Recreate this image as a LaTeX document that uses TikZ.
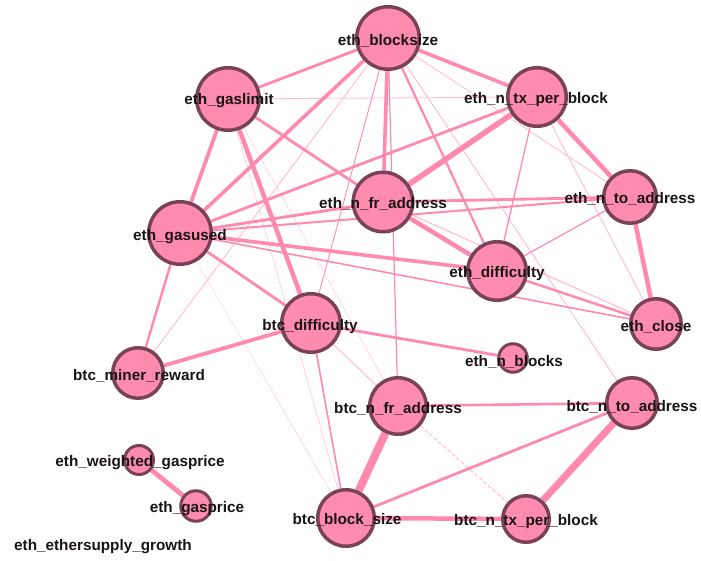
\documentclass[tikz,border=0pt]{standalone}
\usepackage{fontspec}
\setmainfont{Liberation Sans}
\usetikzlibrary{backgrounds}
\definecolor{nodefill}{RGB}{255,140,176}
\definecolor{nodeborder}{RGB}{122,66,88}
\definecolor{edgecol}{RGB}{255,138,174}
\definecolor{edgelight}{RGB}{255,188,207}
\definecolor{labelcol}{RGB}{25,20,22}
\tikzset{
  vertex/.style={circle, fill=nodefill, draw=nodeborder, line width=3.5pt, inner sep=0pt, minimum size=#1},
  dot/.style={circle, fill=nodefill, inner sep=0pt, minimum size=#1},
  lbl/.style={font=\bfseries\fontsize{15.3}{16}\selectfont, text=labelcol, inner sep=0pt},
  e/.style={draw=edgecol, line width=#1},
  el/.style={draw=edgelight, line width=#1},
}
\begin{document}
\begin{tikzpicture}[x=1pt,y=-1pt]
\useasboundingbox (0,0) rectangle (701,561);
% vertices
\node[vertex=62.5] (A) at (388,38) {};
\node[vertex=62.5] (B) at (228,99) {};
\node[vertex=58.5] (C) at (537,97) {};
\node[vertex=59.5] (D) at (383,202) {};
\node[vertex=52.5] (E) at (630,197) {};
\node[vertex=62.5] (F) at (180,233) {};
\node[vertex=58.5] (G) at (497,271) {};
\node[vertex=50.5] (H) at (656,324) {};
\node[vertex=58.5] (I) at (311,323) {};
\node[vertex=50.5] (J) at (138,373) {};
\node[vertex=28.5, line width=3pt] (K) at (513,358) {};
\node[vertex=56.5] (L) at (398,406) {};
\node[vertex=50.5] (M) at (632,403) {};
\node[vertex=56.5] (N) at (346,518) {};
\node[vertex=46.5] (O) at (526,519) {};
\node[vertex=29, line width=3pt] (P) at (139,460) {};
\node[vertex=30.5, line width=3pt] (Q) at (196,506) {};
\node[dot=3] (R) at (103,543) {};
% edges
\begin{scope}[on background layer]
\fill[white] (0,0) rectangle (701,561);
\draw[el=0.8] (B) -- (C);
\draw[el=0.8] (A) -- (E);
\draw[el=0.9] (A) -- (M);
\draw[el=0.9] (A) -- (J);
\draw[e=0.9] (A) -- (I);
\draw[el=0.7, dash pattern=on 2pt off 1pt] (B) -- (N);
\draw[el=0.6, dash pattern=on 2pt off 1pt] (B) -- (L);
\draw[el=0.7, dash pattern=on 1pt off 1pt] (F) -- (N);
\draw[el=0.9] (C) -- (H);
\draw[el=1.1] (D) -- (H);
\draw[el=1.0] (I) -- (L);
\draw[el=1.0, dash pattern=on 4pt off 2pt] (L) -- (O);
\draw[e=1.2] (A) -- (L);
\draw[e=1.3] (C) -- (G);
\draw[e=1.2] (E) -- (G);
\draw[e=1.6] (F) -- (H);
\draw[e=1.6] (I) -- (N);
\draw[e=2.0] (F) -- (E);
\draw[e=2.2] (A) -- (G);
\draw[e=2.4] (F) -- (J);
\draw[e=2.4] (G) -- (H);
\draw[e=2.6] (L) -- (M);
\draw[e=2.8] (A) -- (B);
\draw[e=2.8] (B) -- (D);
\draw[e=2.8] (F) -- (D);
\draw[e=2.8] (C) -- (F);
\draw[e=2.8] (D) -- (E);
\draw[e=2.8] (F) -- (I);
\draw[e=2.8] (I) -- (K);
\draw[e=2.8] (N) -- (M);
\draw[e=3.6] (F) -- (G);
\draw[e=3.6] (A) -- (C);
\draw[e=3.6] (A) -- (F);
\draw[e=3.6] (A) -- (D);
\draw[e=3.8] (B) -- (F);
\draw[e=3.8] (I) -- (J);
\draw[e=4.5] (B) -- (I);
\draw[e=4.5] (D) -- (G);
\draw[e=4.5] (C) -- (E);
\draw[e=4.5] (E) -- (H);
\draw[e=4.5] (N) -- (O);
\draw[e=4.8] (P) -- (Q);
\draw[e=5.5] (C) -- (D);
\draw[e=7] (M) -- (O);
\draw[e=8] (L) -- (N);
\end{scope}
% labels
\node[lbl] (lA) at (388,41) {eth\_blocksize};
\node[lbl] (lB) at (229,101) {eth\_gaslimit};
\node[lbl] (lC) at (536,100) {eth\_n\_tx\_per\_block};
\node[lbl] (lD) at (383,204) {eth\_n\_fr\_address};
\node[lbl] (lE) at (630,199) {eth\_n\_to\_address};
\node[lbl] (lF) at (180,237) {eth\_gasused};
\node[lbl] (lG) at (497,274) {eth\_difficulty};
\node[lbl] (lH) at (656,327) {eth\_close};
\node[lbl] (lI) at (310,327) {btc\_difficulty};
\node[lbl] (lJ) at (139,376) {btc\_miner\_reward};
\node[lbl] (lK) at (514,362) {eth\_n\_blocks};
\node[lbl] (lL) at (398,409) {btc\_n\_fr\_address};
\node[lbl] (lM) at (632,407) {btc\_n\_to\_address};
\node[lbl] (lN) at (347,520) {btc\_block\_size};
\node[lbl] (lO) at (526,522) {btc\_n\_tx\_per\_block};
\node[lbl] (lP) at (140,463) {eth\_weighted\_gasprice};
\node[lbl] (lQ) at (197,509) {eth\_gasprice};
\node[lbl] (lR) at (103,547) {eth\_ethersupply\_growth};
\end{tikzpicture}
\end{document}
